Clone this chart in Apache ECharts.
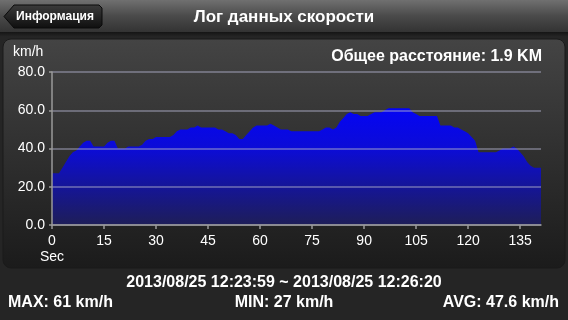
<!DOCTYPE html>
<html>
<head>
<meta charset="utf-8">
<script src="https://cdn.jsdelivr.net/npm/echarts@6/dist/echarts.min.js"></script>
<style>
html,body{margin:0;padding:0;background:#222;}
#c{width:568px;height:320px;}
</style>
</head>
<body>
<div id="c"></div>
<script>
// Speed samples, one per second (km/h)
var seconds = [];
for (var i = 0; i <= 141; i++) seconds.push(i);
var speeds = [
  27,27,27,30,33,36,38,39,41,43,44,44,41,41,41,41,43,44,44,40,
  40,40,41,41,41,41,42,44,45,45,46,46,46,46,46,47,49,50,50,50,
  51,51,52,51,51,51,51,51,50,50,49,48,48,47,45,45,47,49,51,52,
  52,52,52,53,52,51,50,50,50,49,49,49,49,49,49,49,49,49,50,51,
  51,50,51,54,56,58,59,58,58,57,57,57,58,59,59,59,60,61,61,61,
  61,61,61,61,59,58,57,57,57,57,57,57,52,52,52,52,51,51,50,49,
  48,46,44,38,38,38,38,38,38,39,40,40,40,41,40,38,36,33,31,30,
  30,30
];
var xTicks = [0,15,30,45,60,75,90,105,120,135];
var yTicks = [0,20,40,60,80];
var titleText = 'Лог данных скорости';
var backText = 'Информация';
var distanceText = 'Общее расстояние: 1.9 KM';
var unitText = 'km/h';
var rangeText = '2013/08/25 12:23:59 ~ 2013/08/25 12:26:20';
var maxText = 'MAX: 61 km/h';
var minText = 'MIN: 27 km/h';
var avgText = 'AVG: 47.6 km/h';

var points = seconds.map(function (t, i) { return [t, speeds[i]]; });
var FONT = '"Liberation Sans", Arial, sans-serif';

var chart = echarts.init(document.getElementById('c'));
chart.setOption({
  backgroundColor: '#252525',
  animation: false,
  graphic: [
    { type: 'rect', z: -10, shape: { x: 0, y: 0, width: 568, height: 32 },
      style: { fill: new echarts.graphic.LinearGradient(0, 0, 0, 1, [
        { offset: 0, color: '#707070' }, { offset: 0.5, color: '#4a4a4a' }, { offset: 1, color: '#333333' }]) } },
    { type: 'rect', z: -10, shape: { x: 0, y: 32, width: 568, height: 5 },
      style: { fill: new echarts.graphic.LinearGradient(0, 0, 0, 1, [
        { offset: 0, color: '#151515' }, { offset: 1, color: '#262626' }]) } },
    { type: 'polygon', z: 5, shape: { points: [[14,5],[99,5],[102,8],[102,25],[99,28],[14,28],[4,16.5]] },
      style: { fill: new echarts.graphic.LinearGradient(0, 0, 0, 1, [
        { offset: 0, color: '#3c3c3c' }, { offset: 1, color: '#0e0e0e' }]), stroke: '#0a0a0a', lineWidth: 1 } },
    { type: 'text', z: 6, style: { text: backText, x: 55, y: 16.5, align: 'center', verticalAlign: 'middle',
      fill: '#fff', font: 'bold 12px ' + FONT } },
    { type: 'text', z: 6, style: { text: titleText, x: 284, y: 17, align: 'center', verticalAlign: 'middle',
      fill: '#fff', font: 'bold 17px ' + FONT } },
    { type: 'rect', z: -9, shape: { x: 3, y: 39, width: 562, height: 229, r: 8 },
      style: { fill: new echarts.graphic.LinearGradient(0, 0, 0, 1, [
        { offset: 0, color: '#444444' }, { offset: 1, color: '#1b1b1b' }]), stroke: '#1a1a1a', lineWidth: 1 } },
    { type: 'text', z: 6, style: { text: unitText, x: 13, y: 52, align: 'left', verticalAlign: 'middle',
      fill: '#fff', font: '14px ' + FONT } },
    { type: 'text', z: 6, style: { text: distanceText, x: 542, y: 57, align: 'right', verticalAlign: 'middle',
      fill: '#fff', font: 'bold 16px ' + FONT } },
    { type: 'text', z: 6, style: { text: rangeText, x: 284, y: 283, align: 'center', verticalAlign: 'middle',
      fill: '#fff', font: 'bold 16px ' + FONT } },
    { type: 'text', z: 6, style: { text: maxText, x: 8, y: 303, align: 'left', verticalAlign: 'middle',
      fill: '#fff', font: 'bold 16px ' + FONT } },
    { type: 'text', z: 6, style: { text: minText, x: 284, y: 303, align: 'center', verticalAlign: 'middle',
      fill: '#fff', font: 'bold 16px ' + FONT } },
    { type: 'text', z: 6, style: { text: avgText, x: 559, y: 303, align: 'right', verticalAlign: 'middle',
      fill: '#fff', font: 'bold 16px ' + FONT } }
  ],
  grid: { left: 52, right: 27, top: 72, bottom: 95 },
  xAxis: {
    type: 'value', min: 0, max: 141, interval: 15, z: 5,
    axisLine: { show: true, lineStyle: { color: '#9a9a9a', width: 1.5 } },
    axisTick: { show: true, length: 4, customValues: xTicks, lineStyle: { color: '#9a9a9a', width: 1.5 } },
    axisLabel: { customValues: xTicks, color: '#fff', fontSize: 14, fontFamily: FONT, margin: 8, lineHeight: 16,
      formatter: function (v) { return v === 0 ? '0\nSec' : String(v); } },
    splitLine: { show: false }
  },
  yAxis: {
    type: 'value', min: 0, max: 80, interval: 20, z: 5,
    axisLine: { show: true, lineStyle: { color: '#9a9a9a', width: 1.5 } },
    axisTick: { show: true, length: 3, customValues: yTicks, lineStyle: { color: '#9a9a9a', width: 1.5 } },
    axisLabel: { customValues: yTicks, color: '#fff', fontSize: 14, fontFamily: FONT, margin: 7,
      formatter: function (v) { return v.toFixed(1); } },
    splitLine: { show: true, lineStyle: { color: 'rgba(175,175,200,0.6)', width: 1.5 } }
  },
  series: [{
    type: 'line', data: points, showSymbol: false, z: 2,
    lineStyle: { width: 0 },
    areaStyle: { opacity: 1, color: new echarts.graphic.LinearGradient(0, 0, 0, 1, [
      { offset: 0, color: '#0404f4' }, { offset: 0.35, color: '#0c0cd6' }, { offset: 1, color: '#1e1e58' }]) }
  }]
});
</script>
</body>
</html>
